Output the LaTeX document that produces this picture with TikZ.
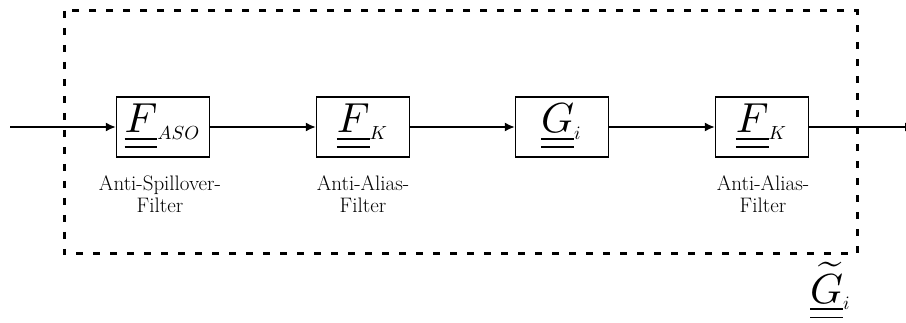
\documentclass[tikz,border=0pt]{standalone}
\usepackage{fontspec}
\usepackage{amsmath}
\usepackage{graphicx}
\usetikzlibrary{arrows.meta}
\newcommand\dul[1]{\underline{\underline{#1}}}
\newcommand\blkm[2]{\scalebox{4.2}{$\dul{#1}{\vphantom{#1}}_{\scalebox{0.45}{$#2$}}$}}
\begin{document}
\begin{tikzpicture}[x=1pt,y=-1pt,
  blk/.style={draw,line width=1.5pt,minimum width=93pt,minimum height=60pt,inner sep=0pt},
  lbl/.style={align=center,font=\fontsize{21}{22}\selectfont},
  arr/.style={line width=1.5pt,-{Latex[length=10pt,width=9pt]}},
  frame/.style={line width=3pt,dash pattern=on 7pt off 10pt}]
\useasboundingbox (0,0) rectangle (906,323);
\draw[frame] (64,11) rectangle (857,254);
\node[blk] (b1) at (163,127) {\blkm{F}{ASO}};
\node[blk] (b2) at (363,127) {\blkm{F}{K}};
\node[blk] (b3) at (562,127) {\blkm{G}{i}};
\node[blk] (b4) at (762,127) {\blkm{F}{K}};
\coordinate (in) at (10,127);
\coordinate (out) at (915,127);
\draw[arr] (in) -- (b1);
\draw[arr] (b1) -- (b2);
\draw[arr] (b2) -- (b3);
\draw[arr] (b3) -- (b4);
\draw[arr] (b4) -- (out);
\node[lbl] (l1) at (160,194) {Anti-Spillover-\\Filter};
\node[lbl] (l2) at (363,194) {Anti-Alias-\\Filter};
\node[lbl] (l4) at (763,194) {Anti-Alias-\\Filter};
\node[inner sep=0pt] (gt) at (831,291) {\scalebox{4.2}{$\dul{\widetilde{G}}{\vphantom{G}}_{\scalebox{0.45}{$i$}}$}};
\end{tikzpicture}
\end{document}
